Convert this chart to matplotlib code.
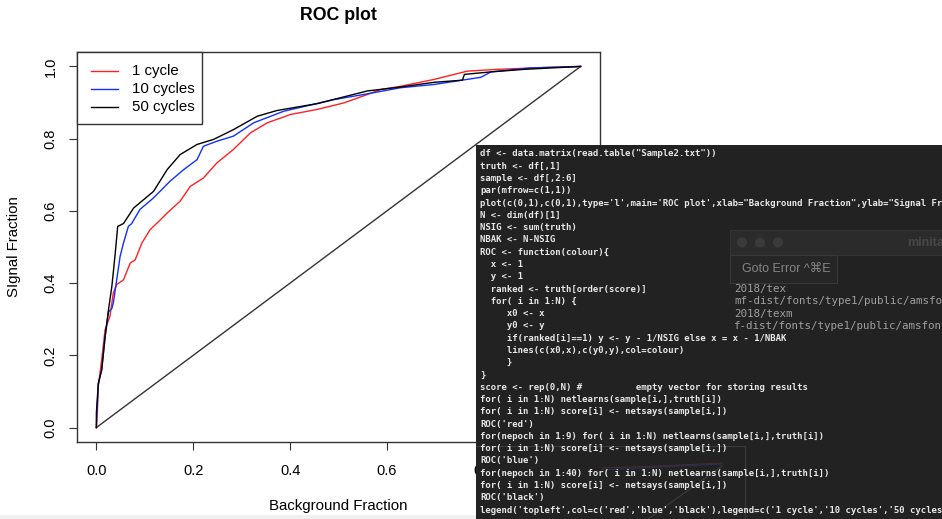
import matplotlib
matplotlib.use("Agg")
import matplotlib.pyplot as plt
from matplotlib.patches import Rectangle, Circle

plt.rcParams['font.family'] = ['Liberation Sans', 'DejaVu Sans']

# ROC curves (background fraction, signal fraction)
red_x = [0, 0.002, 0.004, 0.011, 0.018, 0.028, 0.035, 0.042, 0.056, 0.070, 0.080, 0.094,
         0.111, 0.132, 0.146, 0.173, 0.194, 0.221, 0.249, 0.283, 0.318, 0.353, 0.401, 0.456,
         0.511, 0.559, 0.587, 0.628, 0.697, 0.766, 0.828, 0.946, 1.0]
red_y = [0, 0.04, 0.114, 0.188, 0.271, 0.308, 0.373, 0.396, 0.409, 0.456, 0.464, 0.511,
         0.548, 0.575, 0.594, 0.627, 0.668, 0.691, 0.733, 0.770, 0.816, 0.844, 0.867, 0.881,
         0.899, 0.922, 0.936, 0.945, 0.964, 0.987, 0.992, 0.998, 1.0]

blue_x = [0, 0.001, 0.004, 0.011, 0.018, 0.025, 0.032, 0.035, 0.046, 0.049, 0.056, 0.066,
          0.073, 0.090, 0.118, 0.152, 0.180, 0.208, 0.221, 0.249, 0.283, 0.325, 0.387, 0.490,
          0.559, 0.628, 0.697, 0.794, 0.815, 0.897, 1.0]
blue_y = [0, 0.04, 0.12, 0.16, 0.25, 0.32, 0.33, 0.345, 0.446, 0.474, 0.511, 0.557,
          0.565, 0.604, 0.636, 0.682, 0.714, 0.742, 0.779, 0.793, 0.807, 0.844, 0.876, 0.908,
          0.924, 0.941, 0.950, 0.970, 0.985, 0.996, 1.0]

black_x = [0, 0, 0.004, 0.011, 0.018, 0.025, 0.032, 0.039, 0.044, 0.056, 0.077, 0.118,
           0.146, 0.173, 0.208, 0.242, 0.283, 0.332, 0.373, 0.456, 0.559, 0.628, 0.697,
           0.756, 0.760, 0.815, 0.884, 1.0]
black_y = [0, 0.04, 0.123, 0.16, 0.252, 0.326, 0.391, 0.483, 0.557, 0.565, 0.608, 0.654,
           0.714, 0.756, 0.784, 0.798, 0.825, 0.862, 0.878, 0.897, 0.932, 0.943, 0.956,
           0.962, 0.978, 0.985, 0.992, 1.0]

legend_labels = ['1 cycle', '10 cycles', '50 cycles']
legend_colors = ['#ff2020', '#1030ff', 'black']
ticks = [0.0, 0.2, 0.4, 0.6, 0.8, 1.0]

code_lines = [
    'df <- data.matrix(read.table("Sample2.txt"))',
    'truth <- df[,1]',
    'sample <- df[,2:6]',
    'par(mfrow=c(1,1))',
    'plot(c(0,1),c(0,1),type=\'l\',main=\'ROC plot\',xlab="Background Fraction",ylab="Signal Fraction")',
    'N <- dim(df)[1]',
    'NSIG <- sum(truth)',
    'NBAK <- N-NSIG',
    'ROC <- function(colour){',
    '  x <- 1',
    '  y <- 1',
    '  ranked <- truth[order(score)]',
    '  for( i in 1:N) {',
    '     x0 <- x',
    '     y0 <- y',
    '     if(ranked[i]==1) y <- y - 1/NSIG else x = x - 1/NBAK',
    '     lines(c(x0,x),c(y0,y),col=colour)',
    '     }',
    '}',
    'score <- rep(0,N) #          empty vector for storing results',
    'for( i in 1:N) netlearns(sample[i,],truth[i])',
    'for( i in 1:N) score[i] <- netsays(sample[i,])',
    "ROC('red')",
    'for(nepoch in 1:9) for( i in 1:N) netlearns(sample[i,],truth[i])',
    'for( i in 1:N) score[i] <- netsays(sample[i,])',
    "ROC('blue')",
    'for(nepoch in 1:40) for( i in 1:N) netlearns(sample[i,],truth[i])',
    'for( i in 1:N) score[i] <- netsays(sample[i,])',
    "ROC('black')",
    "legend('topleft',col=c('red','blue','black'),legend=c('1 cycle','10 cycles','50 cycles'))",
]
log_lines = ['2018/tex', 'mf-dist/fonts/type1/public/amsfonts',
             '2018/texm', 'f-dist/fonts/type1/public/amsfonts']

W, H = 942, 519
fig = plt.figure(figsize=(W / 100, H / 100), dpi=100)
ax = fig.add_axes([77 / W, 1 - 442 / H, 523 / W, 390 / H])

ax.plot([0, 1], [0, 1], color='#333333', lw=1)
ax.plot(red_x, red_y, color=legend_colors[0], lw=1)
ax.plot(blue_x, blue_y, color=legend_colors[1], lw=1)
ax.plot(black_x, black_y, color=legend_colors[2], lw=1)

ax.set_xlim(-0.04, 1.04)
ax.set_ylim(-0.04, 1.04)
ax.set_xticks(ticks)
ax.set_yticks(ticks)
ax.set_xticklabels([f'{t:.1f}' for t in ticks])
ax.set_yticklabels([f'{t:.1f}' for t in ticks])
ax.tick_params(length=5.5, width=0.8, color='#333333', labelsize=10.5)
ax.tick_params(axis='x', pad=10)
ax.tick_params(axis='y', pad=8.5)
for lab in ax.get_yticklabels():
    lab.set_rotation(90)
    lab.set_va('center')
for sp in ax.spines.values():
    sp.set_color('#333333')
    sp.set_linewidth(1)

# annotation layer in figure pixels (legend box, faint bottom strip)
pa = fig.add_axes([0, 0, 1, 1])
pa.set_xlim(0, W)
pa.set_ylim(H, 0)
pa.set_axis_off()
pa.patch.set_alpha(0)
pa.add_patch(Rectangle((77, 52), 124.7, 72.3, facecolor='white', edgecolor='#333333', lw=1))
for i, (lab, col) in enumerate(zip(legend_labels, legend_colors)):
    y = 70.7 + i * 18
    pa.plot([90.7, 118.3], [y, y], color=col, lw=1)
    pa.text(131.7, y, lab, fontsize=10.8, va='center')
pa.add_patch(Rectangle((0, 515), 476, 4, facecolor='#f1f1f1', edgecolor='none'))

fig.text(338 / W, 1 - 15 / H, 'ROC plot', ha='center', va='center', fontsize=12.8, weight='bold')
fig.text(338 / W, 1 - 506 / H, 'Background Fraction', ha='center', va='center', fontsize=10.8)
fig.text(14 / W, 1 - 247 / H, 'SIgnal Fraction', ha='center', va='center', fontsize=10.8,
         rotation=90)

# terminal window laid over the chart, drawn in pixel coordinates
ov = fig.add_axes([476 / W, 0, (W - 476) / W, (H - 145) / H])
ov.set_xlim(476, W)
ov.set_ylim(H, 145)
ov.set_axis_off()
ov.add_patch(Rectangle((476, 145), W - 476, H - 145, facecolor='#222222', edgecolor='none'))

# faint window behind the terminal
ov.add_patch(Rectangle((730, 230), 220, 25, facecolor='#2b2b2b', edgecolor='#333333', lw=0.8))
for cx in [742, 760, 778]:
    ov.add_patch(Circle((cx, 242.5), 5, facecolor='#3a3a3a', edgecolor='none'))
ov.text(907, 242.5, 'minita', color='#474747', fontsize=9, weight='bold', va='center')
ov.add_patch(Rectangle((730, 255), 107, 28, facecolor='#262626', edgecolor='#383838', lw=0.8))
ov.text(742, 269.5, 'Goto Error ^\u2318E', color='#858585', fontsize=9, va='center')
for i, line in enumerate(log_lines):
    ov.text(734, 289 + i * 12.3, line, color='#a0a0a0', fontsize=7.8,
            family='DejaVu Sans Mono', va='center')

# ghost of a small plot seen through the terminal
ov.plot([476, 745], [446, 446], color='#3c3c3c', lw=0.8)
ov.plot([745, 745], [446, 519], color='#3c3c3c', lw=0.8)
ov.plot([648, 722], [519, 466], color='#3c3c3c', lw=0.8)
ov.plot([602, 660, 722], [468, 466, 463], color='#4a2a2a', lw=0.8)
ov.plot([602, 660, 722], [470, 467, 464], color='#2a2f55', lw=0.8)

for i, line in enumerate(code_lines):
    ov.text(480, 154 + i * 12.28, line, color='#e8e8e8', fontsize=6.5,
            family='DejaVu Sans Mono', weight='bold', va='center')

fig.savefig('out.png', dpi=100)
